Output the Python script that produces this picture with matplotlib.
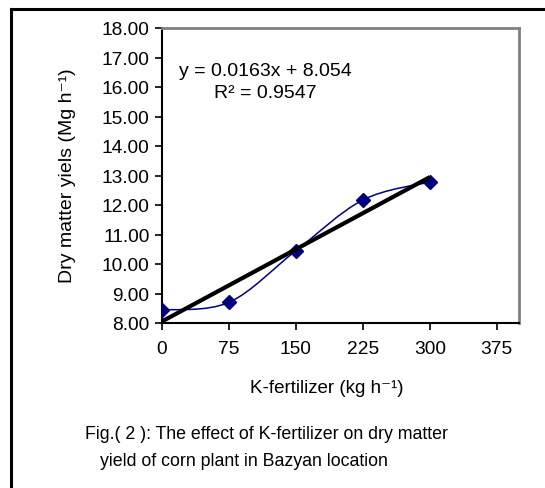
import matplotlib.pyplot as plt
from matplotlib.path import Path
from matplotlib.patches import PathPatch
from matplotlib.lines import Line2D

plt.rcParams['font.family'] = ['Liberation Sans', 'DejaVu Sans']

# data
k_rate = [0, 75, 150, 225, 300]
dry_matter = [8.44, 8.70, 10.45, 12.17, 12.78]
slope = 0.0163
intercept = 8.054
r2 = 0.9547
x_ticks = [0, 75, 150, 225, 300, 375]
y_ticks = [8, 9, 10, 11, 12, 13, 14, 15, 16, 17, 18]


def smooth_path(xs, ys):
    # Excel-style smoothed line: cubic bezier through the points
    pts = list(zip(xs, ys))
    verts = [pts[0]]
    codes = [Path.MOVETO]
    n = len(pts)
    for i in range(n - 1):
        p0 = pts[i - 1] if i > 0 else pts[i]
        p1 = pts[i]
        p2 = pts[i + 1]
        p3 = pts[i + 2] if i + 2 < n else pts[i + 1]
        c1 = (p1[0] + (p2[0] - p0[0]) / 6, p1[1] + (p2[1] - p0[1]) / 6)
        c2 = (p2[0] - (p3[0] - p1[0]) / 6, p2[1] - (p3[1] - p1[1]) / 6)
        verts += [c1, c2, p2]
        codes += [Path.CURVE4] * 3
    return Path(verts, codes)


fig = plt.figure(figsize=(5.45, 4.89), dpi=100)
W, H = 545, 489
ax = fig.add_axes([162 / W, 1 - 324 / H, (519 - 162) / W, (324 - 29) / H])

# outer frame (only left and top edges fall inside the picture)
fig.add_artist(Line2D([11 / W, 11 / W], [0, 1 - 10 / H], color='black', lw=2.2,
                      transform=fig.transFigure))
fig.add_artist(Line2D([11 / W, 1], [1 - 10 / H, 1 - 10 / H], color='black', lw=2.2,
                      transform=fig.transFigure))

navy = '#000080'
ax.add_patch(PathPatch(smooth_path(k_rate, dry_matter), fill=False,
                       edgecolor=navy, lw=1.1, zorder=3))
ax.plot(k_rate, dry_matter, linestyle='none', marker='D', color=navy,
        markersize=7, zorder=4)

trend_x = [k_rate[0], k_rate[-1]]
trend_y = [slope * v + intercept for v in trend_x]
ax.plot(trend_x, trend_y, color='black', lw=3, zorder=5, solid_capstyle='butt')

ax.set_xlim(0, 400)
ax.set_ylim(8, 18)
ax.set_xticks(x_ticks)
ax.set_yticks(y_ticks)
ax.set_yticklabels([f'{v:.2f}' for v in y_ticks])
ax.tick_params(direction='out', length=5, width=1.2, labelsize=13.8, colors='black')
ax.tick_params(axis='y', pad=4)
ax.tick_params(axis='x', pad=7)

for s in ['left', 'bottom']:
    ax.spines[s].set_color('black')
    ax.spines[s].set_linewidth(1.5)
for s in ['top', 'right']:
    ax.spines[s].set_color('#808080')
    ax.spines[s].set_linewidth(2)

fig.text(67 / W, 1 - 176 / H, 'Dry matter yiels (Mg h\u207b\u00b9)', fontsize=14,
         rotation=90, ha='center', va='center')
fig.text(327 / W, 1 - 389 / H, 'K-fertilizer (kg h\u207b\u00b9)', fontsize=13.5,
         ha='center', va='center')

fig.text(265 / W, 1 - 72 / H, f'y = {slope}x + {intercept}', fontsize=14,
         ha='center', va='center')
fig.text(265 / W, 1 - 94 / H, f'R\u00b2 = {r2}', fontsize=14,
         ha='center', va='center')

fig.text(85 / W, 1 - 435 / H, 'Fig.( 2 ): The effect of K-fertilizer on dry matter',
         fontsize=12.8, ha='left', va='center')
fig.text(244 / W, 1 - 462 / H, 'yield of corn plant in Bazyan location',
         fontsize=12.8, ha='center', va='center')

fig.savefig('out.png', dpi=100)
